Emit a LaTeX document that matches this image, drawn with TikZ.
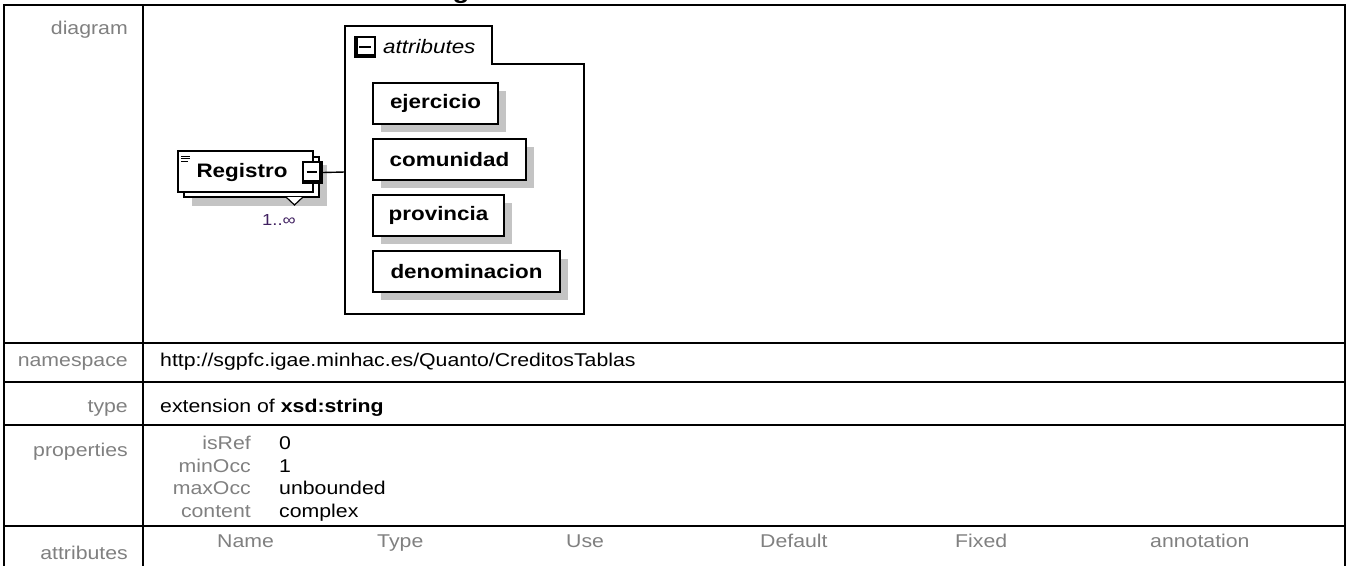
\documentclass[tikz,border=0pt]{standalone}
\usepackage{fontspec}
\setmainfont{Liberation Sans}[FakeStretch=1.15]
\usetikzlibrary{shadows}
\definecolor{labelgray}{RGB}{128,128,128}
\definecolor{shadowgray}{RGB}{196,196,196}
\definecolor{occcolor}{RGB}{64,32,96}
\tikzset{
  tabline/.style={line width=2.2pt, line cap=rect},
  lbl/.style={anchor=base east, inner sep=0pt, text=labelgray, font=\fontsize{18.5}{20}\selectfont},
  val/.style={anchor=base west, inner sep=0pt, text=black, font=\fontsize{18.5}{20}\selectfont},
  hdr/.style={anchor=base west, inner sep=0pt, text=labelgray, font=\fontsize{18.5}{20}\selectfont},
  attrbox/.style={draw, line width=1.4pt, fill=white, minimum height=41pt, inner sep=0pt,
    font=\fontsize{19.5}{21}\selectfont\bfseries,
    drop shadow={shadow xshift=8pt, shadow yshift=-8pt, fill=shadowgray, opacity=1}},
  elembox/.style={draw, line width=1.4pt, fill=white, minimum width=135pt, minimum height=41pt, inner sep=0pt},
  diagline/.style={line width=1.4pt}
}
\begin{document}
\begin{tikzpicture}[x=1pt,y=-1pt]
\useasboundingbox (0,0) rectangle (1346,565);
% clipped title fragment
\begin{scope}
\clip (0,0) rectangle (1346,565);
\node[anchor=base, inner sep=0pt, font=\fontsize{24}{26}\selectfont\bfseries] (title) at (461,-1.5) {g};
\end{scope}
% table frame
\draw[tabline] (4,565) -- (4,5) -- (1345,5) -- (1345,565);
\draw[tabline] (143,5) -- (143,565);
\foreach \yy in {343,382,425,526} \draw[tabline] (4,\yy) -- (1345,\yy);
% labels
\node[lbl] (l1) at (128,34) {diagram};
\node[lbl] (l2) at (128,366) {namespace};
\node[lbl] (l3) at (128,412) {type};
\node[lbl] (l4) at (128,456) {properties};
\node[lbl] (l5) at (128,559) {attributes};
% values
\node[val] (ns) at (160,366) {http://sgpfc.igae.minhac.es/Quanto/CreditosTablas};
\node[val] (ty) at (160,412) {extension of \textbf{xsd:string}};
\node[lbl] (p1) at (251,449) {isRef};
\node[lbl] (p2) at (251,472) {minOcc};
\node[lbl] (p3) at (251,494.5) {maxOcc};
\node[lbl] (p4) at (251,517) {content};
\node[val] (v1) at (279,449) {0};
\node[val] (v2) at (279,472) {1};
\node[val] (v3) at (279,494.5) {unbounded};
\node[val] (v4) at (279,517) {complex};
\node[hdr] (h1) at (217,547) {Name};
\node[hdr] (h2) at (377,547) {Type};
\node[hdr] (h3) at (566,547) {Use};
\node[hdr] (h4) at (760,547) {Default};
\node[hdr] (h5) at (955,547) {Fixed};
\node[hdr] (h6) at (1150,547) {annotation};
% attributes group box
\draw[diagline] (345,314) -- (345,26) -- (492,26) -- (492,64) -- (584,64) -- (584,314) -- cycle;
\coordinate (attrL) at (345,172);
% tab minus box
\draw[line width=1.2pt, fill=white] (355,37) rectangle (375,57);
\draw[line width=3pt] (356.5,37) -- (356.5,55.5) -- (375,55.5);
\draw[line width=1.4pt] (359,47) -- (371,47);
\node[anchor=base west, inner sep=0pt, font=\fontsize{19.5}{21}\selectfont\itshape] (attrtitle) at (383,53) {attributes};
% attribute boxes
\node[attrbox, minimum width=125pt] (ej) at (435.5,103.5) {ejercicio};
\node[attrbox, minimum width=153pt] (co) at (449.5,159.5) {comunidad};
\node[attrbox, minimum width=131pt] (pr) at (438.5,215.5) {provincia};
\node[attrbox, minimum width=187pt] (de) at (466.5,271.5) {denominacion};
% Registro element
\fill[shadowgray] (192,165) rectangle (327,206);
\draw[line width=1.4pt, fill=white] (184,157) rectangle (319,197);
\fill[white] (286,197) -- (294.5,205) -- (303,197) -- cycle;
\draw[line width=1.2pt] (286,197) -- (294.5,205) -- (303,197);
\node[elembox] (reg) at (245.5,171.5) {};
\draw[line width=1pt] (181,156) -- (190,156) (181,158.5) -- (190,158.5) (181,161) -- (188,161);
\node[anchor=center, inner sep=0pt, font=\fontsize{19.5}{21}\selectfont\bfseries] (regtxt) at (242,172) {Registro};
\node[draw, line width=1.2pt, fill=white, minimum width=19pt, minimum height=21pt, inner sep=0pt] (regminus) at (312.5,172.5) {};
\draw[line width=3pt] (303,181.5) -- (320.5,181.5) -- (320.5,162);
\draw[line width=1.4pt] (306.5,172) -- (317,172);
\draw[diagline] (regminus.east) -- (attrL);
\node[anchor=center, inner sep=0pt, text=occcolor, font=\fontsize{16}{18}\selectfont] (occ) at (279,220) {1..∞};
\end{tikzpicture}
\end{document}
